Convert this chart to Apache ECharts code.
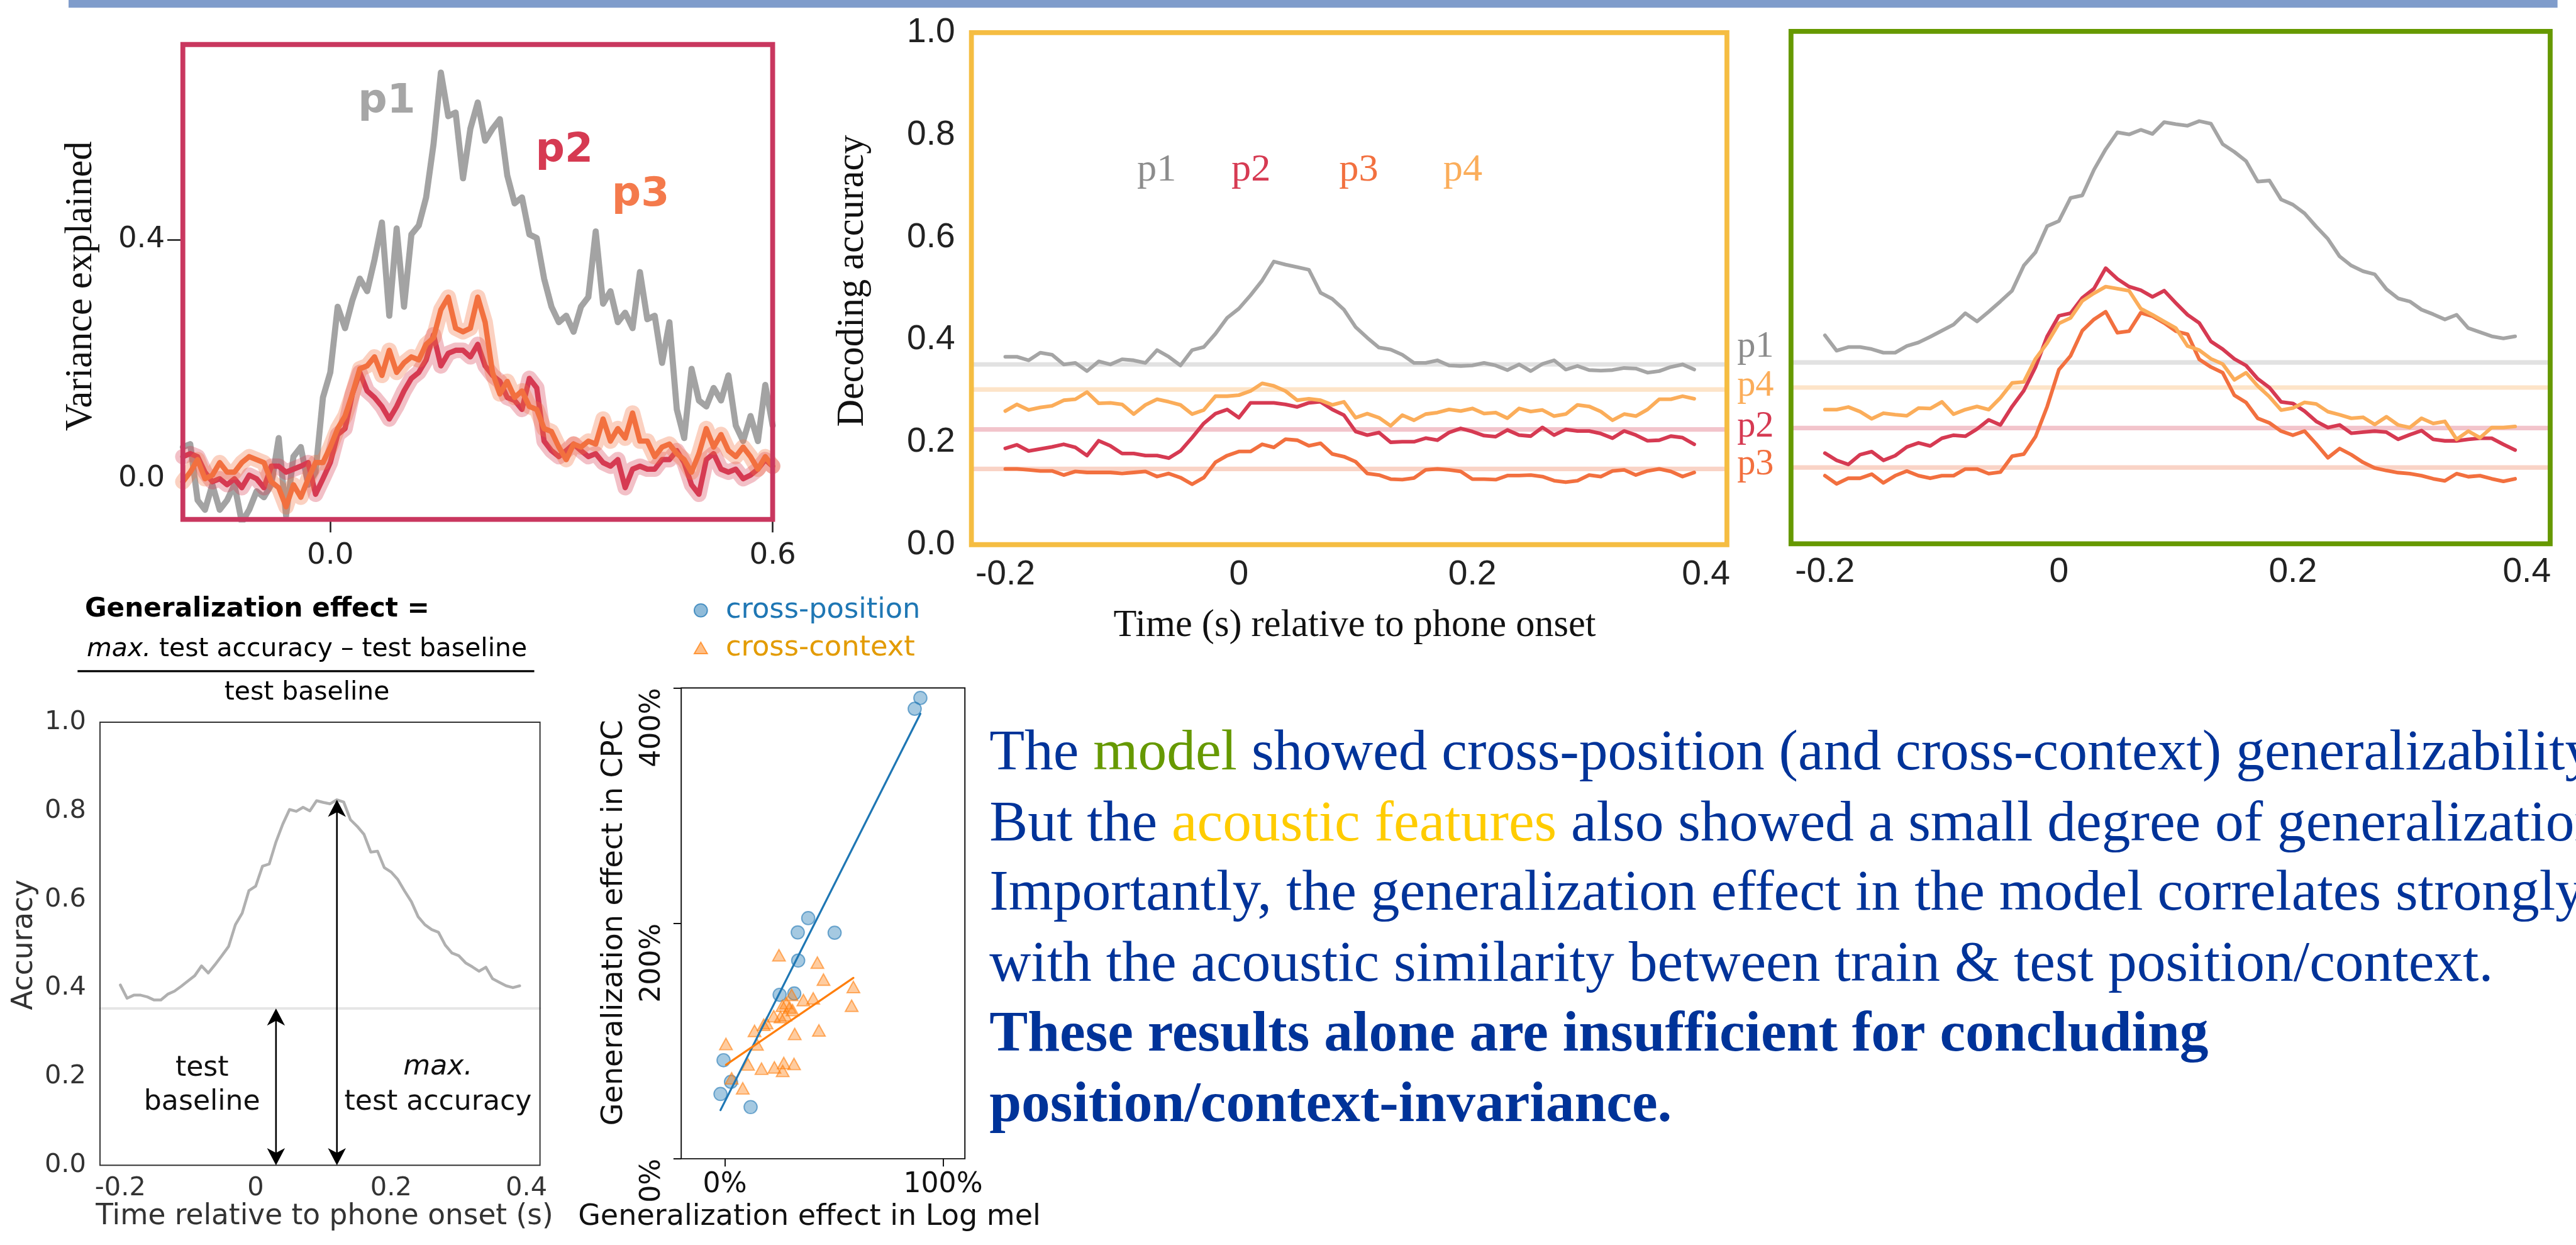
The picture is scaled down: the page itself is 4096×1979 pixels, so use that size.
<!DOCTYPE html>
<html><head><meta charset="utf-8">
<script src="https://cdn.jsdelivr.net/npm/echarts@6/dist/echarts.min.js"></script>
<style>html,body{margin:0;padding:0;background:#fff;overflow:hidden}#c{width:4096px;height:1979px}</style>
</head><body><div id="c"></div>
<script>
const S = 0.649;
const f = v => v * S;

// ---------- DATA ----------
// Panel A: variance explained (time in s)
const T1 = [-0.2,-0.19,-0.18,-0.17,-0.16,-0.15,-0.14,-0.13,-0.12,-0.11,-0.1,-0.09,-0.08,-0.07,-0.06,-0.05,-0.04,-0.03,-0.02,-0.01,0,0.01,0.02,0.03,0.04,0.05,0.06,0.07,0.08,0.09,0.1,0.11,0.12,0.13,0.14,0.15,0.16,0.17,0.18,0.19,0.2,0.21,0.22,0.23,0.24,0.25,0.26,0.27,0.28,0.29,0.3,0.31,0.32,0.33,0.34,0.35,0.36,0.37,0.38,0.39,0.4,0.41,0.42,0.43,0.44,0.45,0.46,0.47,0.48,0.49,0.5,0.51,0.52,0.53,0.54,0.55,0.56,0.57,0.58,0.59,0.6];
const varP1 = [0.053,0.058,-0.036,-0.052,-0.010,-0.052,-0.036,-0.010,-0.073,-0.052,-0.021,-0.031,-0.010,0.068,-0.062,0.037,0.053,-0.010,0.011,0.136,0.178,0.288,0.252,0.299,0.335,0.314,0.367,0.429,0.273,0.419,0.288,0.409,0.424,0.471,0.560,0.680,0.607,0.613,0.503,0.586,0.630,0.566,0.586,0.602,0.508,0.461,0.471,0.409,0.403,0.335,0.288,0.262,0.273,0.246,0.288,0.304,0.414,0.293,0.314,0.262,0.278,0.252,0.346,0.267,0.273,0.194,0.262,0.116,0.068,0.184,0.131,0.121,0.152,0.131,0.173,0.089,0.063,0.105,0.063,0.157,0.089];
const varP2 = [0.037,0.042,0.037,0.011,-0.005,0.000,-0.010,0.000,-0.015,0.006,0.000,-0.015,0.021,0.021,0.011,0.016,0.021,0.027,-0.026,0.000,0.027,0.074,0.084,0.142,0.178,0.147,0.136,0.121,0.100,0.121,0.147,0.168,0.178,0.199,0.241,0.189,0.210,0.215,0.215,0.204,0.225,0.189,0.173,0.163,0.136,0.131,0.116,0.168,0.152,0.063,0.047,0.037,0.047,0.058,0.047,0.037,0.042,0.027,0.021,0.032,-0.015,0.016,0.021,0.016,0.016,0.032,0.032,0.047,0.027,-0.010,-0.026,0.032,0.042,0.016,0.011,0.016,0.000,0.006,0.016,0.032,0.021];
const varP3 = [-0.005,0.011,0.032,0.000,0.006,0.027,0.011,0.011,0.027,0.037,0.032,0.027,-0.005,-0.015,-0.047,-0.010,-0.031,0.000,0.027,0.027,0.053,0.084,0.105,0.142,0.184,0.189,0.204,0.173,0.215,0.178,0.194,0.204,0.199,0.225,0.236,0.283,0.304,0.252,0.246,0.252,0.304,0.262,0.178,0.142,0.163,0.136,0.147,0.121,0.116,0.084,0.079,0.053,0.032,0.058,0.053,0.063,0.058,0.100,0.063,0.084,0.068,0.110,0.063,0.063,0.037,0.053,0.058,0.042,0.032,0.011,0.042,0.084,0.053,0.074,0.047,0.037,0.053,0.037,0.016,0.037,0.021];
const varXTicks = [0, 0.6];
const varYTicks = [0, 0.4];
const varYTickMarks = [0.4];

// Panels B/C: decoding accuracy
const T2 = [-0.2,-0.19,-0.18,-0.17,-0.16,-0.15,-0.14,-0.13,-0.12,-0.11,-0.1,-0.09,-0.08,-0.07,-0.06,-0.05,-0.04,-0.03,-0.02,-0.01,0,0.01,0.02,0.03,0.04,0.05,0.06,0.07,0.08,0.09,0.1,0.11,0.12,0.13,0.14,0.15,0.16,0.17,0.18,0.19,0.2,0.21,0.22,0.23,0.24,0.25,0.26,0.27,0.28,0.29,0.3,0.31,0.32,0.33,0.34,0.35,0.36,0.37,0.38,0.39];
const acP1 = [0.367,0.367,0.360,0.375,0.371,0.352,0.355,0.339,0.358,0.352,0.362,0.360,0.355,0.380,0.367,0.350,0.380,0.386,0.412,0.443,0.461,0.487,0.516,0.553,0.547,0.542,0.537,0.492,0.480,0.459,0.425,0.404,0.385,0.381,0.371,0.355,0.355,0.360,0.350,0.349,0.350,0.355,0.350,0.341,0.352,0.339,0.353,0.360,0.342,0.349,0.341,0.340,0.341,0.345,0.344,0.336,0.339,0.347,0.352,0.342];
const acP2 = [0.188,0.195,0.183,0.187,0.191,0.196,0.190,0.174,0.203,0.193,0.178,0.178,0.174,0.174,0.169,0.183,0.209,0.237,0.256,0.264,0.248,0.277,0.277,0.277,0.274,0.269,0.277,0.279,0.264,0.253,0.221,0.214,0.219,0.200,0.201,0.201,0.208,0.204,0.219,0.227,0.221,0.213,0.211,0.224,0.214,0.212,0.229,0.214,0.225,0.222,0.222,0.217,0.208,0.222,0.214,0.203,0.204,0.212,0.209,0.196];
const acP3 = [0.148,0.148,0.146,0.144,0.144,0.136,0.143,0.141,0.141,0.141,0.139,0.141,0.143,0.133,0.139,0.131,0.118,0.131,0.161,0.174,0.182,0.182,0.196,0.190,0.206,0.204,0.193,0.198,0.177,0.172,0.162,0.139,0.136,0.128,0.127,0.130,0.146,0.148,0.146,0.143,0.128,0.128,0.127,0.135,0.135,0.136,0.133,0.125,0.122,0.125,0.136,0.133,0.144,0.146,0.136,0.144,0.148,0.143,0.133,0.141];
const acP4 = [0.261,0.274,0.263,0.268,0.271,0.282,0.284,0.298,0.276,0.277,0.274,0.255,0.273,0.284,0.279,0.273,0.255,0.263,0.290,0.290,0.292,0.300,0.315,0.310,0.300,0.282,0.285,0.282,0.273,0.279,0.248,0.256,0.248,0.232,0.253,0.243,0.255,0.258,0.264,0.261,0.266,0.256,0.258,0.247,0.266,0.260,0.263,0.251,0.255,0.273,0.270,0.260,0.243,0.255,0.251,0.264,0.284,0.284,0.290,0.285];
const acBaselines = [0.352, 0.225, 0.148, 0.303];   // p1, p2, p3, p4
const mdP1 = [0.407,0.377,0.384,0.384,0.380,0.373,0.373,0.386,0.393,0.404,0.416,0.428,0.450,0.434,0.453,0.473,0.494,0.543,0.569,0.620,0.630,0.675,0.680,0.730,0.770,0.803,0.799,0.808,0.800,0.823,0.819,0.816,0.825,0.820,0.780,0.765,0.747,0.707,0.709,0.672,0.662,0.645,0.619,0.595,0.561,0.543,0.532,0.526,0.497,0.479,0.473,0.457,0.448,0.438,0.447,0.421,0.413,0.405,0.401,0.405];
const mdP2 = [0.177,0.163,0.155,0.174,0.180,0.163,0.172,0.189,0.197,0.191,0.206,0.212,0.210,0.224,0.242,0.232,0.268,0.299,0.345,0.405,0.445,0.450,0.480,0.498,0.538,0.517,0.502,0.495,0.482,0.494,0.470,0.447,0.431,0.395,0.380,0.361,0.348,0.322,0.305,0.277,0.274,0.259,0.239,0.227,0.232,0.216,0.218,0.220,0.218,0.204,0.213,0.221,0.204,0.201,0.201,0.204,0.206,0.206,0.194,0.183];
const mdP3 = [0.133,0.117,0.128,0.128,0.136,0.119,0.133,0.142,0.133,0.128,0.133,0.133,0.146,0.146,0.137,0.140,0.171,0.175,0.209,0.268,0.340,0.367,0.416,0.438,0.453,0.412,0.415,0.451,0.444,0.431,0.415,0.409,0.360,0.345,0.334,0.290,0.276,0.245,0.236,0.220,0.212,0.220,0.195,0.168,0.186,0.174,0.159,0.148,0.143,0.139,0.137,0.133,0.127,0.123,0.137,0.131,0.133,0.127,0.122,0.127];
const mdP4 = [0.262,0.262,0.267,0.258,0.244,0.255,0.252,0.250,0.265,0.264,0.277,0.253,0.262,0.268,0.262,0.285,0.314,0.316,0.361,0.392,0.430,0.441,0.474,0.489,0.502,0.498,0.494,0.459,0.447,0.434,0.421,0.386,0.378,0.361,0.351,0.320,0.334,0.308,0.287,0.261,0.265,0.276,0.273,0.258,0.252,0.245,0.247,0.233,0.248,0.232,0.227,0.245,0.235,0.239,0.204,0.220,0.207,0.227,0.227,0.229];
const mdBaselines = [0.354, 0.226, 0.149, 0.305];   // p1, p2, p3, p4
const decXTicks = [-0.2, 0, 0.2, 0.4];
const decYTicks = [0, 0.2, 0.4, 0.6, 0.8, 1.0];
const arrowBaseT = [0.03];

// Scatter: generalization effect
const posX = [0.896,0.870,0.382,0.334,0.503,0.336,0.251,0.318,-0.006,0.028,-0.020,0.118];
const posY = [3.915,3.823,2.044,1.923,1.920,1.684,1.393,1.404,0.837,0.653,0.550,0.439];
const ctxX = [0.248,0.424,0.452,0.589,0.581,0.306,0.281,0.297,0.310,0.264,0.360,0.405,0.224,0.255,0.277,0.191,0.178,0.136,0.320,0.431,0.005,0.147,0.106,0.168,0.227,0.270,0.317,0.265,0.031,0.082];
const ctxY = [1.729,1.666,1.522,1.459,1.300,1.392,1.322,1.285,1.263,1.300,1.348,1.363,1.211,1.204,1.219,1.152,1.138,1.086,1.060,1.090,0.975,0.971,0.801,0.765,0.776,0.813,0.805,0.746,0.683,0.598];
const scXTicks = [0, 1];
const scYTicks = [0, 2, 4];

// ---------- STYLE / LAYOUT ----------
const COL = {p1:'#a5a5a5', p2:'#d63a52', p3:'#f2703f', p4:'#fbad5a'};
const BASE_COL = ['#e2e2e2', '#f2c4cb', '#f9d3c6', '#fde4c8']; // p1,p2,p3,p4
const GRIDS = [[448,109,1893,1272],[2380,80,4231,1334],[4388,77,6248,1332],[245,1769,1323,2854],[1669,1685,2364,2838]];
const zip = (xs, ys) => xs.map((x, i) => [x, ys[i]]);

const grid = GRIDS.map(g => ({left:f(g[0]), top:f(g[1]), width:f(g[2]-g[0]), height:f(g[3]-g[1]), containLabel:false, outerBoundsMode:'none', show:false}));

const noLine = {show:false, onZero:false};
const noTick = {show:false};
const fmt1 = v => v.toFixed(1);
const fmtDec = v => (Math.abs(v) < 1e-9 ? '0' : v.toFixed(1));
const fmtPct = v => Math.round(v*100) + '%';

const xAxis = [
  {gridIndex:0, type:'value', position:'bottom', min:-0.2, max:0.6, axisLine:noLine, splitLine:noTick,
   axisTick:{show:true, customValues:varXTicks, length:f(32), lineStyle:{color:'#222', width:f(4)}},
   axisLabel:{customValues:varXTicks, formatter:fmt1, fontFamily:'DejaVu Sans', fontSize:f(72), color:'#222', margin:f(54)}},
  {gridIndex:1, type:'value', position:'bottom', min:-0.229, max:0.418, axisLine:noLine, splitLine:noTick, axisTick:noTick,
   axisLabel:{customValues:decXTicks, formatter:fmtDec, fontFamily:'Liberation Sans', fontSize:f(85), color:'#222', margin:f(32)}},
  {gridIndex:2, type:'value', position:'bottom', min:-0.229, max:0.42, axisLine:noLine, splitLine:noTick, axisTick:noTick,
   axisLabel:{customValues:decXTicks, formatter:fmtDec, fontFamily:'Liberation Sans', fontSize:f(85), color:'#222', margin:f(28)}},
  {gridIndex:3, type:'value', position:'bottom', min:-0.23, max:0.42, axisLine:noLine, splitLine:noTick, axisTick:noTick,
   axisLabel:{customValues:decXTicks, formatter:fmtDec, fontFamily:'DejaVu Sans', fontSize:f(64), color:'#333', margin:f(24)}},
  {gridIndex:4, type:'value', position:'bottom', min:-0.2, max:1.1, axisLine:noLine, splitLine:noTick,
   axisTick:{show:true, customValues:scXTicks, length:f(19), lineStyle:{color:'#111', width:f(3)}},
   axisLabel:{customValues:scXTicks, formatter:fmtPct, fontFamily:'DejaVu Sans', fontSize:f(68), color:'#111', margin:f(30)}}
];
const yAxis = [
  {gridIndex:0, type:'value', position:'left', min:-0.068, max:0.727, axisLine:noLine, splitLine:noTick,
   axisTick:{show:true, customValues:varYTickMarks, length:f(38), lineStyle:{color:'#222', width:f(4)}},
   axisLabel:{customValues:varYTicks, formatter:fmt1, fontFamily:'DejaVu Sans', fontSize:f(72), color:'#222', margin:f(44)}},
  {gridIndex:1, type:'value', position:'left', min:0, max:1, axisLine:noLine, splitLine:noTick, axisTick:noTick,
   axisLabel:{customValues:decYTicks, formatter:fmt1, fontFamily:'Liberation Sans', fontSize:f(85), color:'#222', margin:f(40)}},
  {gridIndex:2, type:'value', position:'left', min:0, max:1, axisLine:noLine, splitLine:noTick, axisTick:noTick, axisLabel:{show:false}},
  {gridIndex:3, type:'value', position:'left', min:0, max:1, axisLine:noLine, splitLine:noTick, axisTick:noTick,
   axisLabel:{customValues:decYTicks, formatter:fmt1, fontFamily:'DejaVu Sans', fontSize:f(64), color:'#333', margin:f(34)}},
  {gridIndex:4, type:'value', position:'left', min:0, max:4, axisLine:noLine, splitLine:noTick,
   axisTick:{show:true, customValues:scYTicks, length:f(19), lineStyle:{color:'#111', width:f(3)}},
   axisLabel:{customValues:scYTicks, formatter:fmtPct, rotate:90, align:'right', verticalAlign:'middle', fontFamily:'DejaVu Sans', fontSize:f(68), color:'#111', margin:f(71)}}
];

function ln(gi, data, color, w, op, z) {
  return {type:'line', xAxisIndex:gi, yAxisIndex:gi, data:data, symbol:'none', showSymbol:false, silent:true,
          animation:false, z:(z||2), lineStyle:{color:color, width:w, opacity:(op==null?1:op), join:'round', cap:'round'}};
}
function baseLine(gi, b, color, w) {
  const xa = xAxis[gi];
  return ln(gi, [[xa.min, b], [xa.max, b]], color, w, 1, 1);
}
function fitLine(xs, ys) {
  const n = xs.length;
  const mx = xs.reduce((a,b)=>a+b,0)/n, my = ys.reduce((a,b)=>a+b,0)/n;
  let sxy = 0, sxx = 0;
  for (let i = 0; i < n; i++) { sxy += (xs[i]-mx)*(ys[i]-my); sxx += (xs[i]-mx)*(xs[i]-mx); }
  const b = sxy/sxx, a = my - b*mx;
  const x0 = Math.min(...xs), x1 = Math.max(...xs);
  return [[x0, a + b*x0], [x1, a + b*x1]];
}

const series = [];
// Panel A
series.push(ln(0, zip(T1, varP1), '#a3a3a3', f(15)));
series.push(ln(0, zip(T1, varP2), COL.p2, f(38), 0.32));
series.push(ln(0, zip(T1, varP2), COL.p2, f(13)));
series.push(ln(0, zip(T1, varP3), COL.p3, f(38), 0.32));
series.push(ln(0, zip(T1, varP3), COL.p3, f(13)));
// Panel B (acoustic)
[0,1,2,3].forEach(i => series.push(baseLine(1, acBaselines[i], BASE_COL[i], f(11))));
series.push(ln(1, zip(T2, acP1), COL.p1, f(9)));
series.push(ln(1, zip(T2, acP3), COL.p3, f(9)));
series.push(ln(1, zip(T2, acP2), COL.p2, f(9)));
series.push(ln(1, zip(T2, acP4), COL.p4, f(9)));
// Panel C (model)
[0,1,2,3].forEach(i => series.push(baseLine(2, mdBaselines[i], BASE_COL[i], f(11))));
series.push(ln(2, zip(T2, mdP1), COL.p1, f(9)));
series.push(ln(2, zip(T2, mdP3), COL.p3, f(9)));
series.push(ln(2, zip(T2, mdP2), COL.p2, f(9)));
series.push(ln(2, zip(T2, mdP4), COL.p4, f(9)));
// Panel D (example)
series.push(baseLine(3, mdBaselines[0], '#e6e6e6', f(6)));
series.push(ln(3, zip(T2, mdP1), '#b0b0b0', f(7)));
// Panel E (scatter)
series.push({type:'scatter', xAxisIndex:4, yAxisIndex:4, data:zip(posX, posY), symbol:'circle', symbolSize:f(32), silent:true, animation:false,
  itemStyle:{color:'rgba(31,119,180,0.5)', borderColor:'rgba(31,119,180,0.75)', borderWidth:f(3)}, z:3});
series.push({type:'scatter', xAxisIndex:4, yAxisIndex:4, data:zip(ctxX, ctxY), symbol:'triangle', symbolSize:[f(31), f(28)], silent:true, animation:false,
  itemStyle:{color:'rgba(255,127,14,0.5)', borderColor:'rgba(255,127,14,0.75)', borderWidth:f(3)}, z:3});
series.push(ln(4, fitLine(posX, posY), '#1f77b4', f(5), 1, 5));
series.push(ln(4, fitLine(ctxX, ctxY), '#ff7f0e', f(5), 1, 5));

// ---------- GRAPHICS (texts, frames) ----------
const G = [];
G.push({type:'rect', shape:{x:f(168), y:0, width:f(6098), height:f(19)}, style:{fill:'#7f9ccb'}, z:100});
const frameSpec = [[0,'#c9375f',12],[1,'#f5bd42',12],[2,'#669900',12],[3,'#333333',3],[4,'#111111',3]];
frameSpec.forEach(([gi, c, w]) => {
  const g = GRIDS[gi];
  G.push({type:'rect', shape:{x:f(g[0]), y:f(g[1]), width:f(g[2]-g[0]), height:f(g[3]-g[1])}, style:{fill:'none', stroke:c, lineWidth:f(w)}, z:100});
});
function tx(x, y, text, fs, o) {
  o = o || {};
  return {type:'text', x:f(x), y:f(y), rotation:o.rot||0, z:110,
    style:{text:text, fontFamily:o.ff||'DejaVu Sans', fontSize:f(fs), fontWeight:o.fw||'normal', fontStyle:o.fst||'normal',
           fill:o.c||'#111', textAlign:o.al||'left', textVerticalAlign:'middle', rich:o.rich}};
}
const mid = (base, fs) => base - 0.34*fs;
const SERIF = 'Liberation Serif';
// Axis titles
G.push(tx(199, 701, 'Variance explained', 93, {ff:SERIF, al:'center', rot:Math.PI/2}));
G.push(tx(2089, 688, 'Decoding accuracy', 93, {ff:SERIF, al:'center', rot:Math.PI/2}));
G.push(tx(3319, 1533, 'Time (s) relative to phone onset', 93, {ff:SERIF, al:'center'}));
// Panel A labels
G.push(tx(877, mid(284,100), 'p1', 100, {fw:'bold', c:'#a6a6a6'}));
G.push(tx(1312, mid(404,100), 'p2', 100, {fw:'bold', c:COL.p2}));
G.push(tx(1499, mid(512,100), 'p3', 100, {fw:'bold', c:'#f47a4c'}));
// Panel B labels
[['p1',2786,'#8c8c8c'],['p2',3017,COL.p2],['p3',3281,COL.p3],['p4',3536,COL.p4]].forEach(([t,x,c]) =>
  G.push(tx(x, mid(450,96), t, 96, {ff:SERIF, c:c})));
// Panel C side labels
[['p1',880,'#8c8c8c'],['p4',976,COL.p4],['p2',1077,COL.p2],['p3',1168,COL.p3]].forEach(([t,b,c]) =>
  G.push(tx(4256, mid(b,90), t, 90, {ff:SERIF, c:c})));
// Formula
G.push(tx(208, mid(1515,65), 'Generalization effect =', 65, {fw:'bold', c:'#000'}));
G.push(tx(752, mid(1612,63), '{i|max.}{n| test accuracy \u2013 test baseline}', 63, {al:'center', c:'#000',
  rich:{i:{fontFamily:'DejaVu Sans', fontStyle:'italic', fontSize:f(63), fill:'#000'}, n:{fontFamily:'DejaVu Sans', fontSize:f(63), fill:'#000'}}}));
G.push({type:'line', shape:{x1:f(190), y1:f(1644), x2:f(1309), y2:f(1644)}, style:{stroke:'#000', lineWidth:f(5)}, z:110});
G.push(tx(752, mid(1718,63), 'test baseline', 63, {al:'center', c:'#000'}));
// Panel D labels
G.push(tx(60, 2314, 'Accuracy', 70, {al:'center', rot:Math.PI/2, c:'#333'}));
G.push(tx(795, 2981, 'Time relative to phone onset (s)', 70, {al:'center', c:'#333'}));
G.push(tx(495, 2617, 'test', 68, {al:'center'}));
G.push(tx(495, 2701, 'baseline', 68, {al:'center'}));
G.push(tx(1073, 2614, 'max.', 68, {al:'center', fst:'italic'}));
G.push(tx(1073, 2701, 'test accuracy', 68, {al:'center'}));
// Panel E legend & titles
G.push({type:'circle', shape:{cx:f(1717), cy:f(1495), r:f(16)}, style:{fill:'rgba(31,119,180,0.5)', stroke:'rgba(31,119,180,0.75)', lineWidth:f(3)}, z:110});
G.push({type:'polygon', shape:{points:[[f(1717),f(1573)],[f(1733),f(1601)],[f(1701),f(1601)]]}, style:{fill:'rgba(255,127,14,0.5)', stroke:'rgba(255,127,14,0.75)', lineWidth:f(3)}, z:110});
G.push(tx(1778, 1495, 'cross-position', 69, {c:'#1f77b4'}));
G.push(tx(1778, 1587, 'cross-context', 69, {c:'#e39b00'}));
G.push(tx(1506, 2260, 'Generalization effect in CPC', 71, {al:'center', rot:Math.PI/2}));
G.push(tx(1983, 2981, 'Generalization effect in Log mel', 71, {al:'center'}));
// Body text
const BLUE = '#003399', FS = 141;
function rl(parts, bold) {
  const rich = {}; let s = '';
  parts.forEach(([t, c], i) => { rich['k'+i] = {fill:c, fontFamily:SERIF, fontSize:f(FS), fontWeight:bold?'bold':'normal'}; s += '{k'+i+'|'+t+'}'; });
  return {s, rich};
}
const bodyLines = [
  [[['The ', BLUE], ['model', '#669900'], [' showed cross-position (and cross-context) generalizability.', BLUE]], false],
  [[['But the ', BLUE], ['acoustic features', '#ffcc00'], [' also showed a small degree of generalization.', BLUE]], false],
  [[['Importantly, the generalization effect in the model correlates strongly', BLUE]], false],
  [[['with the acoustic similarity between train & test position/context.', BLUE]], false],
  [[['These results alone are insufficient for concluding', BLUE]], true],
  [[['position/context-invariance.', BLUE]], true]
];
const bodyBase = [1895, 2069, 2239, 2413, 2585, 2757];
bodyLines.forEach(([parts, bold], i) => {
  const r = rl(parts, bold);
  G.push(tx(2424, mid(bodyBase[i], FS), r.s, FS, {ff:SERIF, c:BLUE, fw:bold?'bold':'normal', rich:r.rich}));
});

const chart = echarts.init(document.getElementById('c'), null, {renderer:'canvas', width:4096, height:1979});
chart.setOption({animation:false, backgroundColor:'#fff', grid:grid, xAxis:xAxis, yAxis:yAxis, series:series, graphic:{elements:G}});

// Arrows in panel D (positions through the axis scales)
const peak = Math.max(...mdP1);
const peakT = T2[mdP1.indexOf(peak)];
const arrowDefs = [[arrowBaseT[0], mdBaselines[0]], [peakT, peak]];
const A = [];
arrowDefs.forEach(([t, v]) => {
  const p0 = chart.convertToPixel({xAxisIndex:3, yAxisIndex:3}, [t, 0]);
  const p1 = chart.convertToPixel({xAxisIndex:3, yAxisIndex:3}, [t, v]);
  const W = f(22), L = f(42);
  A.push({type:'line', shape:{x1:p0[0], y1:p0[1]-L*0.6, x2:p1[0], y2:p1[1]+L*0.6}, style:{stroke:'#000', lineWidth:f(4)}, z:120});
  A.push({type:'polygon', shape:{points:[[p1[0],p1[1]],[p1[0]+W,p1[1]+L],[p1[0],p1[1]+L*0.72],[p1[0]-W,p1[1]+L]]}, style:{fill:'#000'}, z:120});
  A.push({type:'polygon', shape:{points:[[p0[0],p0[1]],[p0[0]+W,p0[1]-L],[p0[0],p0[1]-L*0.72],[p0[0]-W,p0[1]-L]]}, style:{fill:'#000'}, z:120});
});
chart.setOption({graphic:{elements:G.concat(A)}});
</script>
</body></html>
